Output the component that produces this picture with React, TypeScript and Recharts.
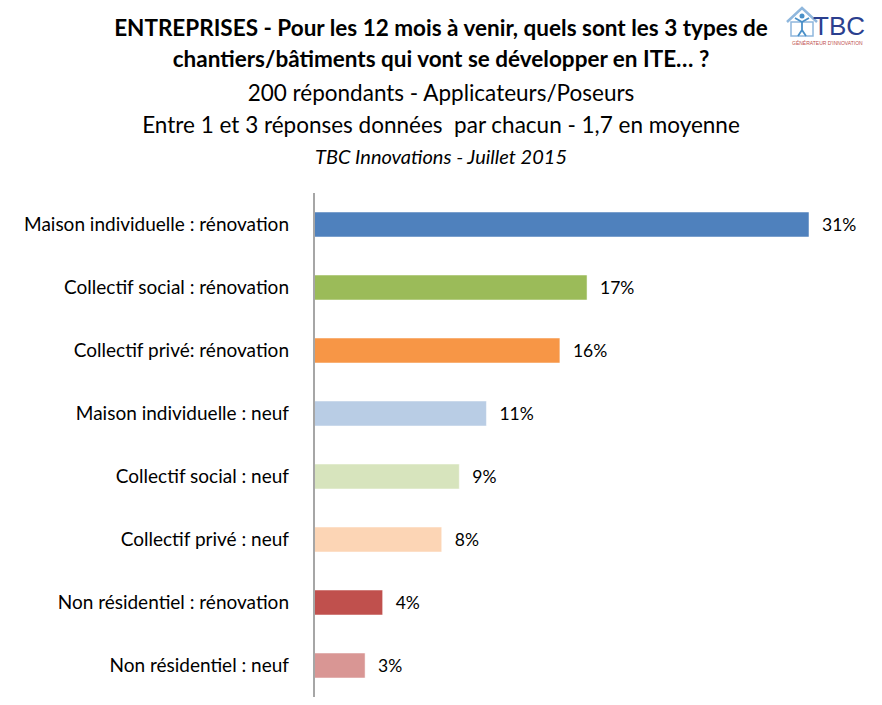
import React from "react";
import { BarChart, Bar, XAxis, YAxis, Cell, LabelList } from "recharts";

const categories = [
  "Maison individuelle : rénovation",
  "Collectif social : rénovation",
  "Collectif privé: rénovation",
  "Maison individuelle : neuf",
  "Collectif social : neuf",
  "Collectif privé : neuf",
  "Non résidentiel : rénovation",
  "Non résidentiel : neuf",
];
// bar lengths (labels are the rounded published figures)
const values = [31, 17.1, 15.4, 10.8, 9.1, 8, 4.3, 3.2];
const valueLabels = ["31%", "17%", "16%", "11%", "9%", "8%", "4%", "3%"];
const colors = ["#4F81BD", "#9BBB59", "#F79646", "#B9CDE5", "#D7E4BD", "#FCD5B5", "#C0504D", "#D99694"];

const data = categories.map((name, i) => ({ name, value: values[i], label: valueLabels[i] }));

const font = "Lato, 'Open Sans', sans-serif";

function Logo() {
  return (
    <svg width={100} height={48} style={{ position: "absolute", left: 782, top: 2 }}>
      <path d="M5 20 L20 6 L35 20" fill="none" stroke="#8FB7DD" strokeWidth={2.5} />
      <rect x={9} y={20} width={22} height={14} fill="none" stroke="#8FB7DD" strokeWidth={1.5} />
      <circle cx={20} cy={14} r={2.5} fill="#4A90C8" />
      <path d="M13 16 L20 20 L27 16 M20 20 L20 28 L16 34 M20 28 L24 34" fill="none" stroke="#4A90C8" strokeWidth={1.8} />
      <text x={31} y={33} fontFamily="'Liberation Sans', Arial, sans-serif" fontSize={26} fill="#2B3F8F">TBC</text>
      <text x={10} y={43} fontFamily="'Liberation Sans', Arial, sans-serif" fontSize={5} fill="#C0504D">GÉNÉRATEUR D'INNOVATION</text>
    </svg>
  );
}

export default function App() {
  const line = { position: "absolute" as const, left: 0, width: 882, textAlign: "center" as const, color: "#000", fontFamily: font, whiteSpace: "nowrap" as const };
  return (
    <div style={{ position: "absolute", left: 0, top: 0, width: 882, height: 705, background: "#fff" }}>
      <div style={{ ...line, top: 14, fontSize: 22.5, fontWeight: 700 }}>
        ENTREPRISES - Pour les 12 mois à venir, quels sont les 3 types de
      </div>
      <div style={{ ...line, top: 45, fontSize: 22.5, fontWeight: 700 }}>
        chantiers/bâtiments qui vont se développer en ITE… ?
      </div>
      <div style={{ ...line, top: 79, fontSize: 22.5 }}>200 répondants - Applicateurs/Poseurs</div>
      <div style={{ ...line, top: 111, fontSize: 22.5 }}>
        Entre 1 et 3 réponses données&nbsp; par chacun - 1,7 en moyenne
      </div>
      <div style={{ ...line, top: 144, fontSize: 20, fontStyle: "italic" }}>TBC Innovations - Juillet 2015</div>
      <Logo />
      <div style={{ position: "absolute", left: 0, top: 0 }}>
        <BarChart
          width={882}
          height={705}
          data={data}
          layout="vertical"
          margin={{ top: 193, right: 73, bottom: 8, left: 0 }}
          barCategoryGap={19}
        >
          <XAxis type="number" domain={[0, 31]} hide />
          <YAxis
            type="category"
            dataKey="name"
            width={314}
            tickLine={false}
            tickMargin={19}
            axisLine={{ stroke: "#A6A6A6", strokeWidth: 2 }}
            tick={{ fontSize: 19, fill: "#000", fontFamily: font }}
            interval={0}
          />
          <Bar dataKey="value" isAnimationActive={false} stroke="#FFFFFF" strokeOpacity={0.5}>
            {data.map((d, i) => (
              <Cell key={d.name} fill={colors[i]} />
            ))}
            <LabelList dataKey="label" position="right" offset={13} style={{ fontSize: 17.5, fill: "#000", fontFamily: font }} />
          </Bar>
        </BarChart>
      </div>
    </div>
  );
}
